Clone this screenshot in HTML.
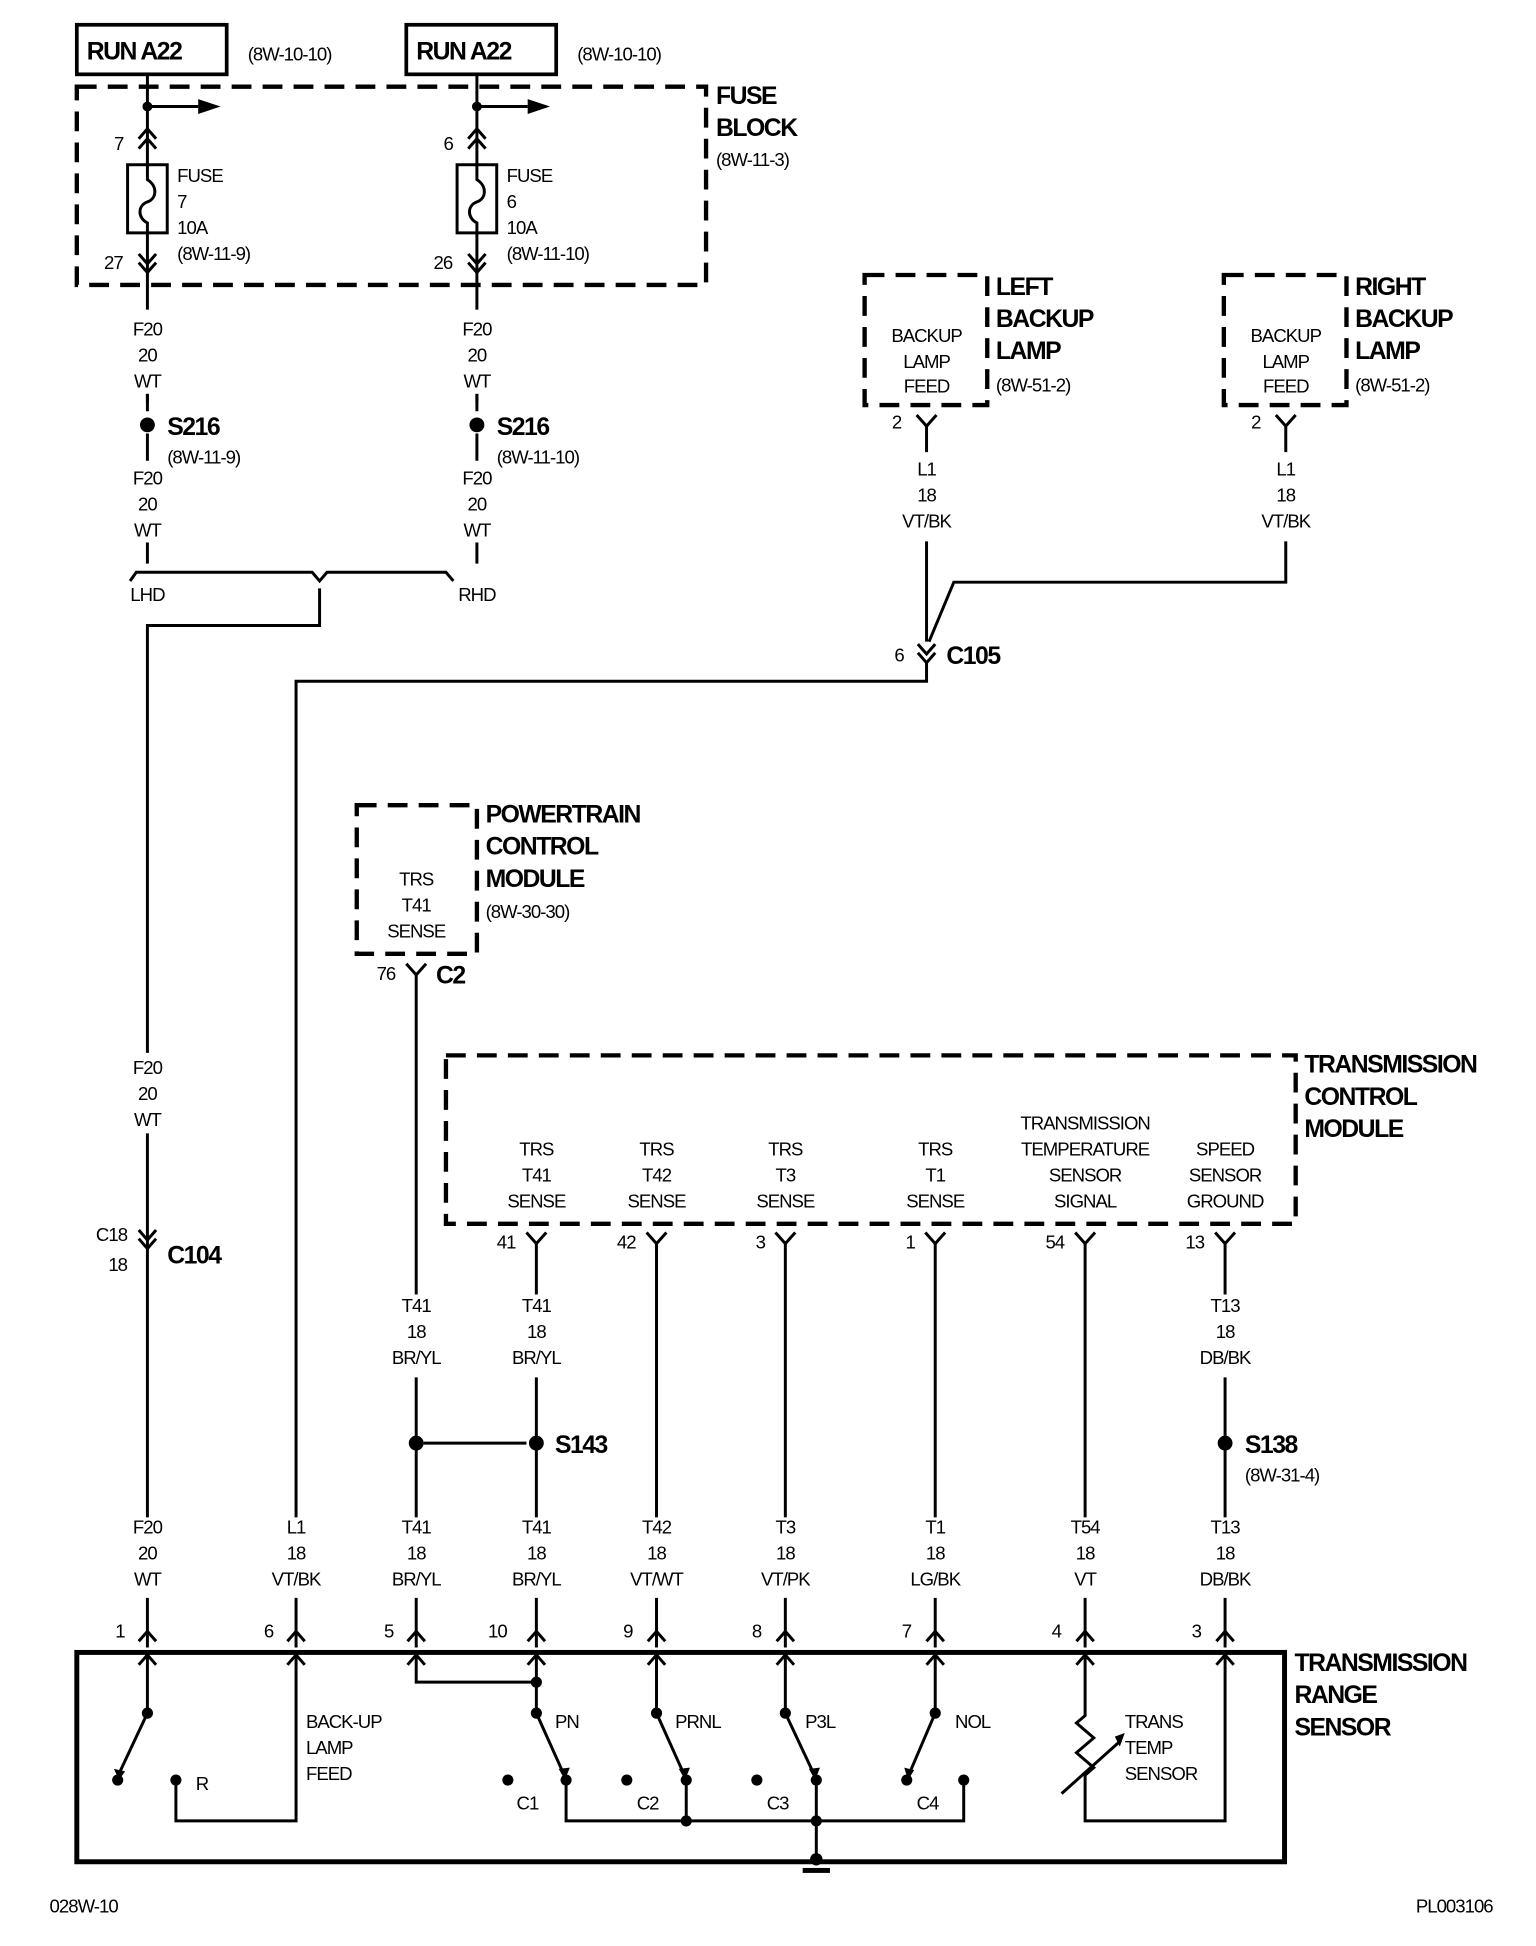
<!DOCTYPE html>
<html><head><meta charset="utf-8"><style>
html,body{margin:0;padding:0;background:#fff;}
svg{display:block;}
text{font-family:"Liberation Sans",sans-serif;fill:#000;}
.t{font-size:15px;letter-spacing:-0.8px;}
.c{font-size:15px;letter-spacing:-0.8px;text-anchor:middle;}
.b{font-size:20px;font-weight:bold;letter-spacing:-1.2px;}
.w{stroke:#000;stroke-width:2.4;fill:none;}
.d{stroke:#000;stroke-width:3.5;fill:none;stroke-dasharray:16,9;}
.k{stroke:#000;stroke-width:4;fill:none;}
</style></head><body>
<svg width="1536" height="1946" viewBox="0 0 1240 1571" xmlns="http://www.w3.org/2000/svg">
<!-- RUN boxes -->
<rect x="62" y="20" width="121" height="40" class="w" style="stroke-width:3"/>
<rect x="328" y="20" width="121" height="40" class="w" style="stroke-width:3"/>
<text x="70" y="48" class="b">RUN A22</text>
<text x="336" y="48" class="b">RUN A22</text>
<text x="200" y="49" class="t">(8W-10-10)</text>
<text x="466" y="49" class="t">(8W-10-10)</text>
<!-- fuse block -->
<rect x="62" y="70" width="508" height="160" class="d"/>
<text x="578" y="84" class="b">FUSE</text>
<text x="578" y="110" class="b">BLOCK</text>
<text x="578" y="134" class="t">(8W-11-3)</text>
<g class="w">
<path d="M119 60V332M385 60V332"/>
<path d="M119 86H160M385 86H426"/>
<path d="M112 112L119 104L126 112M112 120L119 112L126 120"/>
<path d="M378 112L385 104L392 112M378 120L385 112L392 120"/>
<path d="M112 205L119 213L126 205M112 212L119 220L126 212"/>
<path d="M378 205L385 213L392 205M378 212L385 220L392 212"/>
<rect x="103" y="133" width="32" height="55" fill="#fff"/>
<rect x="369" y="133" width="32" height="55" fill="#fff"/>
<path d="M119 133V145C127 150 127 160 119 163C111 166 111 176 119 180V188"/>
<path d="M385 133V145C393 150 393 160 385 163C377 166 377 176 385 180V188"/>
</g>
<circle cx="119" cy="86" r="4"/><circle cx="385" cy="86" r="4"/>
<path d="M160 80L178 86L160 92Z"/><path d="M426 80L444 86L426 92Z"/>
<text x="92" y="121" class="t">7</text><text x="358" y="121" class="t">6</text>
<text x="143" y="147" class="t">FUSE</text><text x="143" y="168" class="t">7</text><text x="143" y="189" class="t">10A</text><text x="143" y="210" class="t">(8W-11-9)</text>
<text x="409" y="147" class="t">FUSE</text><text x="409" y="168" class="t">6</text><text x="409" y="189" class="t">10A</text><text x="409" y="210" class="t">(8W-11-10)</text>
<text x="84" y="217" class="t">27</text><text x="350" y="217" class="t">26</text>
<!-- F20 labels top -->
<rect x="100" y="250" width="40" height="68" fill="#fff"/><rect x="366" y="250" width="40" height="68" fill="#fff"/>
<text x="119" y="271" class="c">F20</text><text x="119" y="292" class="c">20</text><text x="119" y="313" class="c">WT</text>
<text x="385" y="271" class="c">F20</text><text x="385" y="292" class="c">20</text><text x="385" y="313" class="c">WT</text>
<path class="w" d="M119 318V325M385 318V325M119 350V372M385 350V372M119 438V455M385 438V455"/>
<circle cx="119" cy="343" r="6"/><circle cx="385" cy="343" r="6"/>
<text x="135" y="351" class="b">S216</text><text x="401" y="351" class="b">S216</text>
<text x="135" y="374" class="t">(8W-11-9)</text><text x="401" y="374" class="t">(8W-11-10)</text>
<text x="119" y="391" class="c">F20</text><text x="119" y="412" class="c">20</text><text x="119" y="433" class="c">WT</text>
<text x="385" y="391" class="c">F20</text><text x="385" y="412" class="c">20</text><text x="385" y="433" class="c">WT</text>
<path class="w" d="M105 469L110 462H252L258 469L264 462H360L366 469"/>
<text x="119" y="485" class="c">LHD</text><text x="385" y="485" class="c">RHD</text>
<path class="w" d="M258 475V505H119V850M119 915V1225M119 1290V1330"/>
<text x="119" y="867" class="c">F20</text><text x="119" y="888" class="c">20</text><text x="119" y="909" class="c">WT</text>
<path class="w" d="M112 993L119 1001L126 993M112 1000L119 1008L126 1000"/>
<text x="90" y="1002" class="c">C18</text><text x="95" y="1026" class="c">18</text>
<text x="135" y="1020" class="b">C104</text>
<!-- backup lamps -->
<rect x="698" y="222" width="99" height="105" class="d"/>
<rect x="988" y="222" width="99" height="105" class="d"/>
<text x="748" y="276" class="c">BACKUP</text><text x="748" y="297" class="c">LAMP</text><text x="748" y="317" class="c">FEED</text>
<text x="1038" y="276" class="c">BACKUP</text><text x="1038" y="297" class="c">LAMP</text><text x="1038" y="317" class="c">FEED</text>
<text x="804" y="238" class="b">LEFT</text><text x="804" y="264" class="b">BACKUP</text><text x="804" y="290" class="b">LAMP</text><text x="804" y="316" class="t">(8W-51-2)</text>
<text x="1094" y="238" class="b">RIGHT</text><text x="1094" y="264" class="b">BACKUP</text><text x="1094" y="290" class="b">LAMP</text><text x="1094" y="316" class="t">(8W-51-2)</text>
<path class="w" d="M740 335L748 344L756 335M748 344V365M1030 335L1038 344L1046 335M1038 344V365"/>
<text x="720" y="346" class="t">2</text><text x="1010" y="346" class="t">2</text>
<text x="748" y="384" class="c">L1</text><text x="748" y="405" class="c">18</text><text x="748" y="426" class="c">VT/BK</text>
<text x="1038" y="384" class="c">L1</text><text x="1038" y="405" class="c">18</text><text x="1038" y="426" class="c">VT/BK</text>
<path class="w" d="M748 437V518M1038 437V470H770L750 518"/>
<path class="w" d="M741 520L748 528L755 520M741 527L748 535L755 527"/>
<text x="722" y="534" class="t">6</text><text x="764" y="536" class="b">C105</text>
<path class="w" d="M748 535V550H239V1225M239 1290V1330"/>
<!-- PCM -->
<rect x="288" y="650" width="97" height="120" class="d"/>
<text x="336" y="715" class="c">TRS</text><text x="336" y="736" class="c">T41</text><text x="336" y="757" class="c">SENSE</text>
<text x="392" y="664" class="b">POWERTRAIN</text><text x="392" y="690" class="b">CONTROL</text><text x="392" y="716" class="b">MODULE</text><text x="392" y="741" class="t">(8W-30-30)</text>
<path class="w" d="M328 778L336 787L344 778M336 787V1045M336 1112V1225M336 1290V1330"/>
<text x="304" y="791" class="t">76</text><text x="352" y="794" class="b">C2</text>
<path class="w" d="M342 1165H425"/>
<circle cx="336" cy="1165" r="6"/><circle cx="433" cy="1165" r="6"/>
<text x="448" y="1173" class="b">S143</text>
<!-- TCM -->
<rect x="360" y="852" width="686" height="136" class="d"/>
<text x="1053" y="866" class="b">TRANSMISSION</text><text x="1053" y="892" class="b">CONTROL</text><text x="1053" y="918" class="b">MODULE</text>
<text x="433" y="933" class="c">TRS</text><text x="433" y="954" class="c">T41</text><text x="433" y="975" class="c">SENSE</text>
<text x="530" y="933" class="c">TRS</text><text x="530" y="954" class="c">T42</text><text x="530" y="975" class="c">SENSE</text>
<text x="634" y="933" class="c">TRS</text><text x="634" y="954" class="c">T3</text><text x="634" y="975" class="c">SENSE</text>
<text x="755" y="933" class="c">TRS</text><text x="755" y="954" class="c">T1</text><text x="755" y="975" class="c">SENSE</text>
<text x="876" y="912" class="c">TRANSMISSION</text><text x="876" y="933" class="c">TEMPERATURE</text><text x="876" y="954" class="c">SENSOR</text><text x="876" y="975" class="c">SIGNAL</text>
<text x="989" y="933" class="c">SPEED</text><text x="989" y="954" class="c">SENSOR</text><text x="989" y="975" class="c">GROUND</text>
<g class="w">
<path d="M425 995L433 1004L441 995M522 995L530 1004L538 995M626 995L634 1004L642 995M747 995L755 1004L763 995M868 995L876 1004L884 995M981 995L989 1004L997 995"/>
<path d="M433 1004V1045M433 1112V1225M530 1004V1225M634 1004V1225M755 1004V1225M876 1004V1225M989 1004V1045M989 1112V1225"/>
<path d="M433 1290V1330M530 1290V1330M634 1290V1330M755 1290V1330M876 1290V1330M989 1290V1330"/>
</g>
<text x="401" y="1008" class="t">41</text><text x="498" y="1008" class="t">42</text><text x="610" y="1008" class="t">3</text><text x="731" y="1008" class="t">1</text><text x="844" y="1008" class="t">54</text><text x="957" y="1008" class="t">13</text>
<text x="336" y="1059" class="c">T41</text><text x="336" y="1080" class="c">18</text><text x="336" y="1101" class="c">BR/YL</text>
<text x="433" y="1059" class="c">T41</text><text x="433" y="1080" class="c">18</text><text x="433" y="1101" class="c">BR/YL</text>
<text x="989" y="1059" class="c">T13</text><text x="989" y="1080" class="c">18</text><text x="989" y="1101" class="c">DB/BK</text>
<circle cx="989" cy="1165" r="6"/>
<text x="1005" y="1173" class="b">S138</text><text x="1005" y="1196" class="t">(8W-31-4)</text>
<!-- bottom wire labels -->
<text x="119" y="1238" class="c">F20</text><text x="119" y="1259" class="c">20</text><text x="119" y="1280" class="c">WT</text>
<text x="239" y="1238" class="c">L1</text><text x="239" y="1259" class="c">18</text><text x="239" y="1280" class="c">VT/BK</text>
<text x="336" y="1238" class="c">T41</text><text x="336" y="1259" class="c">18</text><text x="336" y="1280" class="c">BR/YL</text>
<text x="433" y="1238" class="c">T41</text><text x="433" y="1259" class="c">18</text><text x="433" y="1280" class="c">BR/YL</text>
<text x="530" y="1238" class="c">T42</text><text x="530" y="1259" class="c">18</text><text x="530" y="1280" class="c">VT/WT</text>
<text x="634" y="1238" class="c">T3</text><text x="634" y="1259" class="c">18</text><text x="634" y="1280" class="c">VT/PK</text>
<text x="755" y="1238" class="c">T1</text><text x="755" y="1259" class="c">18</text><text x="755" y="1280" class="c">LG/BK</text>
<text x="876" y="1238" class="c">T54</text><text x="876" y="1259" class="c">18</text><text x="876" y="1280" class="c">VT</text>
<text x="989" y="1238" class="c">T13</text><text x="989" y="1259" class="c">18</text><text x="989" y="1280" class="c">DB/BK</text>
<!-- bottom pins -->
<g class="w">
<path d="M112 1325L119 1317L126 1325M232 1325L239 1317L246 1325M329 1325L336 1317L343 1325M426 1325L433 1317L440 1325M523 1325L530 1317L537 1325M627 1325L634 1317L641 1325M748 1325L755 1317L762 1325M869 1325L876 1317L883 1325M982 1325L989 1317L996 1325"/>
<path d="M112 1344L119 1336L126 1344M232 1344L239 1336L246 1344M329 1344L336 1336L343 1344M426 1344L433 1336L440 1344M523 1344L530 1336L537 1344M627 1344L634 1336L641 1344M748 1344L755 1336L762 1344M869 1344L876 1336L883 1344M982 1344L989 1336L996 1344"/>
</g>
<text x="93" y="1322" class="t">1</text><text x="213" y="1322" class="t">6</text><text x="310" y="1322" class="t">5</text><text x="394" y="1322" class="t">10</text><text x="503" y="1322" class="t">9</text><text x="607" y="1322" class="t">8</text><text x="728" y="1322" class="t">7</text><text x="849" y="1322" class="t">4</text><text x="962" y="1322" class="t">3</text>
<!-- TRS box -->
<rect x="62" y="1334" width="975" height="169" class="k"/>
<text x="1045" y="1349" class="b">TRANSMISSION</text><text x="1045" y="1375" class="b">RANGE</text><text x="1045" y="1401" class="b">SENSOR</text>
<g class="w">
<path d="M119 1336V1383L96 1432"/>
<path d="M142 1437V1470H239V1336"/>
<path d="M336 1336V1358H433M433 1336V1383L455 1432M530 1336V1383L552 1432M634 1336V1383L657 1432M755 1336V1383L734 1432"/>
<path d="M457 1437V1470H778V1437M554 1437V1470M659 1437V1503"/>
<path d="M876 1336V1385L869 1391L883 1403L869 1415L883 1427L876 1433V1470H989V1336"/>
<path d="M857 1448L905 1405"/>
</g>
<path d="M900 1402L908 1399L904 1410Z"/>
<path d="M92 1428L96 1437L101 1430Z M451 1428L456 1437L460 1427Z M548 1428L553 1437L557 1427Z M653 1428L658 1437L662 1427Z M730 1427L733 1437L738 1429Z"/>
<g>
<circle cx="119" cy="1383" r="4.5"/><circle cx="95" cy="1437" r="4.5"/><circle cx="142" cy="1437" r="4.5"/>
<circle cx="433" cy="1358" r="4.5"/>
<circle cx="433" cy="1383" r="4.5"/><circle cx="530" cy="1383" r="4.5"/><circle cx="634" cy="1383" r="4.5"/><circle cx="755" cy="1383" r="4.5"/>
<circle cx="410" cy="1437" r="4.5"/><circle cx="457" cy="1437" r="4.5"/><circle cx="506" cy="1437" r="4.5"/><circle cx="554" cy="1437" r="4.5"/><circle cx="611" cy="1437" r="4.5"/><circle cx="659" cy="1437" r="4.5"/><circle cx="732" cy="1437" r="4.5"/><circle cx="778" cy="1437" r="4.5"/>
<circle cx="554" cy="1470" r="4.5"/><circle cx="659" cy="1470" r="4.5"/><circle cx="659" cy="1501" r="5"/>
<rect x="648" y="1508" width="22" height="4"/>
</g>
<text x="158" y="1445" class="t">R</text>
<text x="247" y="1395" class="t">BACK-UP</text><text x="247" y="1416" class="t">LAMP</text><text x="247" y="1437" class="t">FEED</text>
<text x="448" y="1395" class="t">PN</text><text x="545" y="1395" class="t">PRNL</text><text x="650" y="1395" class="t">P3L</text><text x="771" y="1395" class="t">NOL</text>
<text x="417" y="1461" class="t">C1</text><text x="514" y="1461" class="t">C2</text><text x="619" y="1461" class="t">C3</text><text x="740" y="1461" class="t">C4</text>
<text x="908" y="1395" class="t">TRANS</text><text x="908" y="1416" class="t">TEMP</text><text x="908" y="1437" class="t">SENSOR</text>
<text x="40" y="1544" class="t">028W-10</text>
<text x="1143" y="1544" class="t">PL003106</text>
</svg>
</body></html>
